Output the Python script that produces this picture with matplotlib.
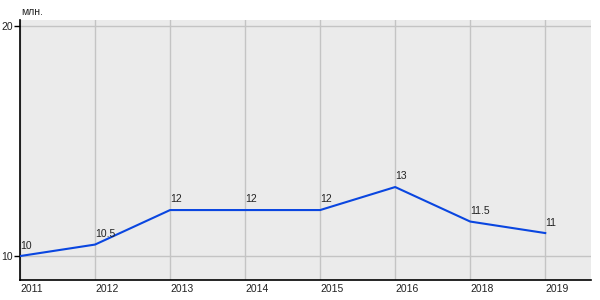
import matplotlib
matplotlib.use("Agg")
import matplotlib.pyplot as plt

years = ["2011", "2012", "2013", "2014", "2015", "2016", "2018", "2019"]
values = [10, 10.5, 12, 12, 12, 13, 11.5, 11]
labels = ["10", "10.5", "12", "12", "12", "13", "11.5", "11"]

plt.rcParams['font.family'] = ['Liberation Sans', 'DejaVu Sans']

fig = plt.figure(figsize=(6, 3), dpi=100)
ax = fig.add_axes([20 / 600, 20 / 300, 571 / 600, 260 / 300])
ax.set_facecolor('#ebebeb')

x = list(range(len(years)))
ax.plot(x, values, color='#0a46e0', linewidth=1.5, zorder=3)
for xi, v, lab in zip(x, values, labels):
    ax.annotate(lab, (xi, v), xytext=(0, 4), textcoords='offset points',
                ha='left', va='bottom', fontsize=7.5, color='#222222')

ax.set_xlim(0, 7.61)
ax.set_ylim(8.96, 20.26)
ax.set_xticks(x)
ax.set_xticklabels(years, ha='left')
ax.set_yticks([10, 20])
ax.grid(True, color='#c4c4c4', linewidth=1)
ax.set_axisbelow(True)

for side in ['top', 'right']:
    ax.spines[side].set_visible(False)
for side in ['left', 'bottom']:
    ax.spines[side].set_color('black')
    ax.spines[side].set_linewidth(1.2)

ax.tick_params(axis='x', length=0, pad=3, labelsize=7.5, colors='#222222')
ax.tick_params(axis='y', length=4, width=1, pad=1, labelsize=7.5, colors='#222222')
ax.tick_params(axis='both', color='black')

fig.text(21 / 600, 1 - 12 / 300, "млн.", fontsize=7.5, color='#222222', va='center')

fig.savefig("out.png", dpi=100)
